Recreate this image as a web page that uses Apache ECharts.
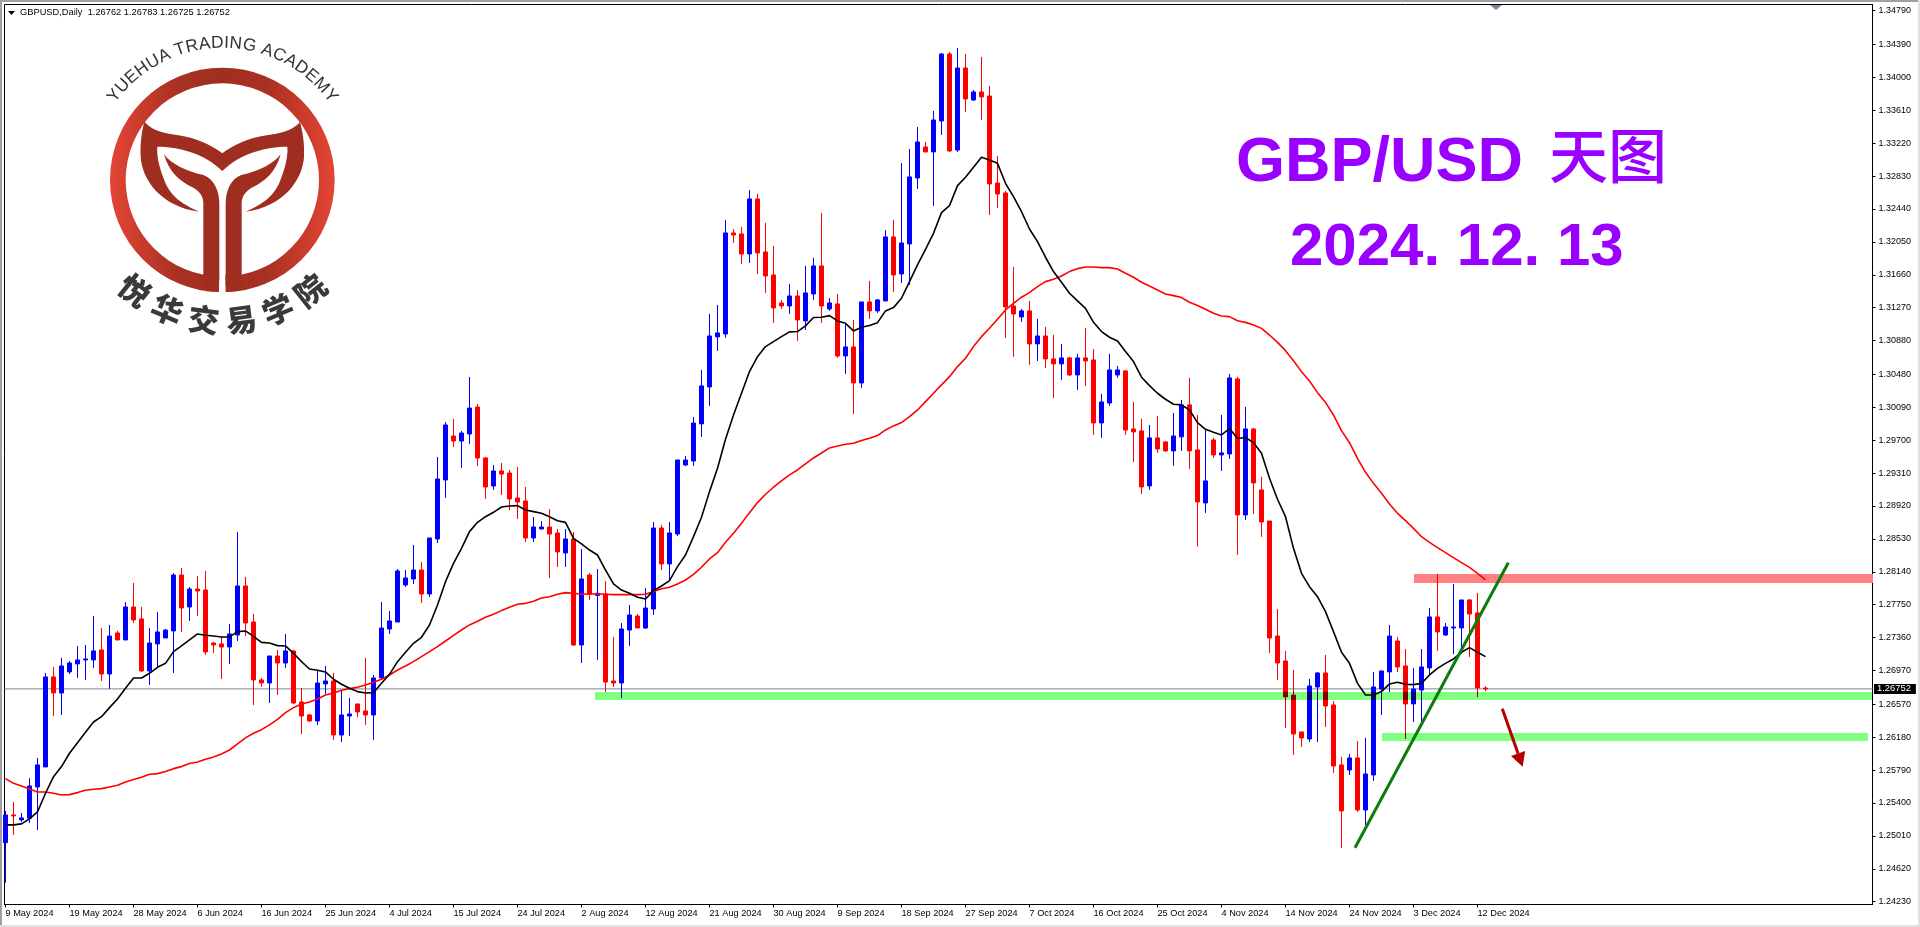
<!DOCTYPE html>
<html><head><meta charset="utf-8">
<style>html,body{margin:0;padding:0;background:#fff;overflow:hidden}#c{width:1920px;height:927px}</style>
<script src="https://cdn.jsdelivr.net/npm/echarts@6/dist/echarts.min.js"></script>
</head><body><div id="c"></div>
<script>
const opens=[1.2493,1.25258,1.25199,1.25219,1.2559,1.25827,1.26894,1.26704,1.26953,1.27048,1.27095,1.27095,1.27214,1.26929,1.27415,1.27332,1.27723,1.27581,1.26965,1.27285,1.27356,1.27439,1.28102,1.27723,1.27936,1.27924,1.27296,1.27285,1.27249,1.27391,1.27972,1.27545,1.26858,1.26822,1.27142,1.27059,1.27202,1.26597,1.26443,1.26372,1.26811,1.26846,1.26206,1.26431,1.26574,1.26491,1.26443,1.26882,1.27462,1.27545,1.27984,1.28055,1.28161,1.27877,1.28529,1.29228,1.29749,1.2969,1.29773,1.30093,1.29489,1.29157,1.29335,1.29311,1.29015,1.28979,1.28541,1.28647,1.28671,1.286,1.28363,1.28529,1.27273,1.28102,1.27861,1.27877,1.26846,1.26822,1.2745,1.27616,1.27474,1.27699,1.28659,1.28233,1.28588,1.29406,1.29453,1.29893,1.30331,1.30924,1.30959,1.32156,1.32144,1.31907,1.32559,1.31931,1.31658,1.31326,1.31291,1.31409,1.31113,1.31433,1.31765,1.31255,1.31315,1.30698,1.30805,1.30378,1.31338,1.31232,1.3135,1.32109,1.3167,1.32026,1.32808,1.33175,1.33116,1.33483,1.34277,1.33139,1.34111,1.33732,1.33827,1.33779,1.32748,1.3263,1.31291,1.31161,1.31232,1.30841,1.30935,1.30663,1.30604,1.30675,1.30473,1.30675,1.30651,1.29904,1.30141,1.30473,1.30521,1.29833,1.2981,1.29158,1.29727,1.29679,1.29573,1.29739,1.30118,1.29584,1.28956,1.29703,1.29525,1.29537,1.30426,1.28814,1.29833,1.2911,1.28742,1.27379,1.27083,1.2668,1.26242,1.26159,1.26775,1.26941,1.26562,1.25851,1.25791,1.25934,1.25317,1.25732,1.26751,1.26953,1.2732,1.27024,1.26574,1.26739,1.27,1.27605,1.27391,1.27474,1.27474,1.27806,1.27652,1.26762];
const closes=[1.25258,1.25246,1.25223,1.25602,1.25851,1.26894,1.26704,1.27024,1.27059,1.27095,1.27107,1.27202,1.26929,1.27379,1.27332,1.27723,1.27569,1.26965,1.27296,1.27427,1.2745,1.28102,1.27711,1.27936,1.27913,1.2719,1.27273,1.27249,1.27403,1.27972,1.27533,1.26858,1.26822,1.27142,1.27059,1.27202,1.26585,1.26431,1.26372,1.26822,1.26846,1.26206,1.26443,1.26455,1.26479,1.26443,1.26882,1.27474,1.27557,1.2815,1.28067,1.28161,1.27877,1.28541,1.2924,1.2988,1.2969,1.29785,1.30081,1.29489,1.29145,1.29335,1.29299,1.29003,1.28967,1.28541,1.28671,1.28671,1.28588,1.28375,1.28529,1.27273,1.28055,1.27877,1.27885,1.26834,1.26822,1.27462,1.27628,1.27474,1.27711,1.28659,1.28233,1.286,1.29465,1.29465,1.29903,1.30343,1.30935,1.30971,1.32156,1.32132,1.31907,1.32559,1.31919,1.31646,1.31267,1.31291,1.31409,1.31125,1.31445,1.31765,1.31291,1.31326,1.30698,1.30805,1.30378,1.31338,1.31232,1.31362,1.32109,1.31658,1.32037,1.3282,1.33234,1.33116,1.33495,1.34277,1.33128,1.34111,1.33744,1.33827,1.33768,1.32737,1.32618,1.31279,1.31196,1.31232,1.30841,1.30935,1.30663,1.30604,1.30675,1.30473,1.30675,1.30639,1.29904,1.30153,1.30532,1.30532,1.29821,1.29798,1.29146,1.29727,1.29596,1.29573,1.2975,1.30118,1.29573,1.28968,1.29217,1.29525,1.29549,1.30438,1.28814,1.29833,1.29193,1.28731,1.27356,1.27059,1.26657,1.26218,1.26171,1.26787,1.26941,1.2655,1.25839,1.25306,1.25934,1.25317,1.25744,1.26775,1.26965,1.27379,1.27012,1.26574,1.26751,1.27012,1.27605,1.27427,1.27486,1.27486,1.27806,1.2764,1.26763,1.26752];
const lows=[1.24456,1.25021,1.25175,1.25163,1.2508,1.25827,1.26431,1.26443,1.26929,1.26882,1.26858,1.27,1.26846,1.26751,1.27332,1.27332,1.27533,1.26953,1.26799,1.27012,1.27356,1.26941,1.27427,1.27557,1.27616,1.27154,1.27178,1.2687,1.27048,1.2732,1.27379,1.26562,1.26775,1.26585,1.2668,1.27,1.26574,1.26218,1.2636,1.26325,1.26692,1.26147,1.26123,1.26194,1.2642,1.26325,1.26147,1.26858,1.27403,1.27545,1.2796,1.27996,1.2777,1.27842,1.28481,1.29015,1.29619,1.2937,1.29655,1.29394,1.29003,1.2911,1.2905,1.28872,1.28766,1.28493,1.28493,1.28647,1.28067,1.28197,1.28197,1.27261,1.27059,1.27806,1.27095,1.26716,1.26775,1.26645,1.27261,1.27474,1.27462,1.27628,1.28161,1.28043,1.28564,1.29394,1.29394,1.29739,1.30106,1.30758,1.30912,1.32037,1.31789,1.318,1.3167,1.31445,1.31089,1.31255,1.31196,1.30876,1.31006,1.31362,1.31089,1.31232,1.30675,1.30485,1.30011,1.30319,1.31137,1.31208,1.3135,1.31457,1.31563,1.3154,1.32677,1.33116,1.32476,1.33317,1.33116,1.33116,1.3359,1.3372,1.33495,1.32369,1.32452,1.30912,1.30687,1.31101,1.30592,1.30639,1.30556,1.30201,1.30414,1.30461,1.30295,1.30343,1.29762,1.29727,1.30106,1.30438,1.29762,1.29442,1.29063,1.2911,1.29549,1.29561,1.29395,1.29573,1.29359,1.28438,1.28838,1.2949,1.29336,1.29478,1.28339,1.28755,1.28826,1.28554,1.27178,1.26858,1.26289,1.25969,1.26064,1.26123,1.26123,1.26301,1.25756,1.24867,1.25732,1.25294,1.2514,1.25661,1.26443,1.26716,1.26953,1.26159,1.2636,1.2636,1.26917,1.27202,1.27379,1.27166,1.27166,1.27131,1.26657,1.26725];
const highs=[1.25306,1.25412,1.25282,1.25693,1.25934,1.26941,1.27012,1.27119,1.27083,1.27261,1.27273,1.27616,1.27474,1.2751,1.27439,1.27782,1.28007,1.27723,1.27474,1.27664,1.27462,1.28126,1.28185,1.2796,1.2809,1.2815,1.27308,1.27368,1.27522,1.28612,1.28079,1.2764,1.26882,1.27142,1.27214,1.27403,1.27214,1.26763,1.26455,1.26976,1.27024,1.26941,1.26728,1.26645,1.26574,1.27119,1.26917,1.27782,1.27676,1.28173,1.28161,1.28458,1.28256,1.28541,1.29501,1.29915,1.29951,1.29809,1.30449,1.30129,1.29501,1.29406,1.29429,1.29346,1.29382,1.29145,1.2879,1.28742,1.28884,1.28647,1.28647,1.28612,1.2841,1.28126,1.28173,1.28031,1.27368,1.27533,1.27747,1.2764,1.27948,1.2873,1.28695,1.2873,1.29465,1.29512,1.29975,1.30532,1.31196,1.31303,1.3231,1.32203,1.32227,1.32665,1.32618,1.32274,1.32002,1.31362,1.31552,1.3148,1.31765,1.3186,1.32393,1.31386,1.31433,1.31085,1.31125,1.31338,1.31587,1.31374,1.32191,1.3231,1.32985,1.33151,1.33412,1.33234,1.33602,1.34289,1.34301,1.34348,1.34277,1.3385,1.34242,1.33898,1.33068,1.32654,1.31753,1.31255,1.3135,1.31137,1.31042,1.30947,1.30841,1.30687,1.30722,1.3103,1.30781,1.30248,1.30722,1.3058,1.30532,1.30153,1.29952,1.29881,1.29987,1.29691,1.30023,1.30177,1.30438,1.29999,1.29821,1.29727,1.29999,1.30485,1.3045,1.30094,1.29845,1.29265,1.28742,1.27699,1.27202,1.26976,1.26242,1.2687,1.26953,1.27154,1.26609,1.25946,1.25981,1.26135,1.26171,1.26953,1.26965,1.2751,1.27368,1.27225,1.27,1.27225,1.27711,1.28114,1.27533,1.27996,1.27806,1.27818,1.27889,1.26783];
const maFast=[1.2514,1.2514,1.25152,1.25211,1.25294,1.25515,1.25712,1.25831,1.25989,1.26115,1.26238,1.2636,1.26423,1.2653,1.26633,1.26759,1.26882,1.26882,1.26937,1.27008,1.27055,1.27194,1.27261,1.27332,1.27403,1.27387,1.27379,1.27368,1.27368,1.27431,1.27439,1.27375,1.27304,1.27296,1.27265,1.27261,1.27174,1.27075,1.26988,1.26973,1.26953,1.26866,1.26807,1.26759,1.2672,1.26704,1.26708,1.26818,1.26925,1.27075,1.27186,1.27292,1.27364,1.2751,1.27747,1.28023,1.2824,1.28418,1.28616,1.28726,1.28793,1.28845,1.28908,1.2892,1.28924,1.28872,1.28853,1.28833,1.28793,1.28746,1.28726,1.28537,1.2847,1.28398,1.28339,1.28161,1.27996,1.27924,1.27885,1.27838,1.27818,1.27917,1.27972,1.28035,1.28201,1.28339,1.28557,1.28786,1.2909,1.29367,1.2971,1.29999,1.30256,1.30513,1.3069,1.30809,1.30868,1.30927,1.30983,1.30987,1.31054,1.31153,1.31157,1.31176,1.31113,1.31085,1.30995,1.31038,1.31058,1.31093,1.31232,1.31271,1.31382,1.31579,1.31777,1.31962,1.32152,1.32397,1.3248,1.32717,1.32816,1.32934,1.33053,1.33021,1.32981,1.32744,1.32586,1.32409,1.32203,1.32053,1.31868,1.31698,1.31571,1.31441,1.3135,1.31263,1.31097,1.30987,1.3092,1.30876,1.3075,1.30631,1.30446,1.30347,1.30256,1.30185,1.30126,1.30118,1.30058,1.29908,1.29829,1.29794,1.29762,1.29837,1.29719,1.29731,1.29671,1.29545,1.29249,1.29,1.28793,1.28418,1.28122,1.27964,1.27845,1.27668,1.27431,1.27186,1.27055,1.26818,1.2668,1.2668,1.2672,1.26811,1.2683,1.26807,1.26803,1.26818,1.26917,1.26996,1.27055,1.27107,1.27186,1.27241,1.27186,1.27134];
const maSlow=[1.25689,1.25633,1.25602,1.25566,1.25531,1.25531,1.25515,1.25495,1.25499,1.25523,1.25551,1.25562,1.2557,1.2559,1.2561,1.25649,1.25677,1.25705,1.2574,1.25748,1.25772,1.25807,1.25831,1.25867,1.25886,1.25918,1.25946,1.25981,1.26028,1.261,1.26171,1.26226,1.26269,1.26325,1.26392,1.26471,1.2653,1.26574,1.26597,1.26633,1.2668,1.26704,1.26736,1.26755,1.26771,1.26799,1.2683,1.26866,1.26917,1.26976,1.27024,1.27075,1.27134,1.27194,1.27253,1.2732,1.27387,1.2745,1.2751,1.27553,1.27601,1.27636,1.2768,1.27719,1.27755,1.27766,1.2779,1.2783,1.27845,1.27873,1.27893,1.27885,1.27873,1.27877,1.27877,1.27873,1.27869,1.27869,1.27869,1.27869,1.27873,1.27905,1.2794,1.27956,1.27996,1.28043,1.2811,1.28194,1.28292,1.28367,1.2849,1.28596,1.28715,1.28841,1.2896,1.29059,1.29142,1.29217,1.29288,1.29347,1.29418,1.29489,1.29548,1.29608,1.29631,1.29651,1.29663,1.29695,1.29722,1.29754,1.29821,1.29869,1.29908,1.29979,1.30058,1.30157,1.30256,1.30355,1.30453,1.30572,1.30671,1.30809,1.30927,1.31026,1.31133,1.31243,1.31322,1.31394,1.31449,1.3152,1.31579,1.31607,1.31646,1.31698,1.31733,1.31753,1.31753,1.31745,1.31745,1.31729,1.31678,1.31631,1.31571,1.31528,1.3148,1.31433,1.31413,1.3139,1.31334,1.31295,1.31251,1.31204,1.31172,1.31164,1.31116,1.31096,1.31065,1.31025,1.30946,1.30859,1.30761,1.30642,1.30512,1.30401,1.30263,1.30148,1.29998,1.29813,1.2967,1.29485,1.29319,1.29188,1.2907,1.28944,1.28833,1.28746,1.28655,1.28556,1.28489,1.28426,1.28367,1.28308,1.28248,1.28193,1.28122,1.28043];
const dateLabels=['9 May 2024','19 May 2024','28 May 2024','6 Jun 2024','16 Jun 2024','25 Jun 2024','4 Jul 2024','15 Jul 2024','24 Jul 2024','2 Aug 2024','12 Aug 2024','21 Aug 2024','30 Aug 2024','9 Sep 2024','18 Sep 2024','27 Sep 2024','7 Oct 2024','16 Oct 2024','25 Oct 2024','4 Nov 2024','14 Nov 2024','24 Nov 2024','3 Dec 2024','12 Dec 2024'];
const priceTicks=[1.3479,1.3439,1.34,1.3361,1.3322,1.3283,1.3244,1.3205,1.3166,1.3127,1.3088,1.3048,1.3009,1.297,1.2931,1.2892,1.2853,1.2814,1.2775,1.2736,1.2697,1.2657,1.2618,1.2579,1.254,1.2501,1.2462,1.2423];
const lastPrice=1.26752;
const zones=[[73.69,233.375,1.26715,1.26621],[172.06,232.8,1.26229,1.26135],[176.06,233.375,1.28114,1.28007]];
const zoneColors=['#80ff80','#80ff80','#ff8080'];
const trendLine=[[168.69,1.2487],[187.85,1.28248]];
const arrowLine=[[187.1,1.26517,189.65,1.2583]];

const XMIN=-0.125,XMAX=233.375,YMIN=1.241968,YMAX=1.348634;
const bars=opens.map((o,i)=>[i,o,closes[i],lows[i],highs[i]]);
const ui="'Liberation Sans',Arial,sans-serif";
const chart=echarts.init(document.getElementById('c'),null,{renderer:'canvas'});

// ----- logo, drawn in a 3x coordinate space
const S=1/3;
const gradient=new echarts.graphic.LinearGradient(0,0,1,0,[{offset:0,color:'#e34535'},{offset:0.3,color:'#a93123'},{offset:0.5,color:'#a02e20'},{offset:0.7,color:'#a93123'},{offset:1,color:'#e34535'}]);
const logoPaths=[
 'M330 540A337 337 0 1 1 1004 540A337 337 0 1 1 330 540ZM377 540A290 290 0 1 0 957 540A290 290 0 1 0 377 540Z',
 'M433 366C462 395 495 400 535 406C590 414 635 436 667 460C699 436 744 414 800 406C840 400 872 395 900 367C908 395 914 430 912 470C908 540 850 620 737 635C790 610 825 590 845 530C858 495 864 465 862 440C800 440 720 460 667 513C614 460 534 440 472 440C470 465 476 495 489 530C509 590 544 610 598 635C484 620 426 540 422 470C420 430 425 395 433 366Z',
 'M492 462C510 490 560 515 610 525C640 535 658 570 658 610L658 838C658 855 640 872 622 874C616 874 610 822 610 822L610 610C610 590 600 575 580 563C540 545 505 515 492 462Z',
 'M842 462C824 490 774 515 724 525C694 535 677 570 677 610L677 838C677 855 694 872 712 874C718 874 725 822 725 822L725 610C725 590 735 575 755 563C795 545 829 515 842 462Z'
];
logoPaths.forEach((d,i)=>echarts.graphic.registerShape('logo'+i,echarts.graphic.extendPath(d)));
const logo=[];
logo.push({type:'logo0',scaleX:S,scaleY:S,style:{fill:gradient}});
logo.push({type:'rect',shape:{x:219,y:195,width:6.6,height:100},style:{fill:'#fff'}});
logo.push({type:'rect',shape:{x:203.4,y:274,width:15.7,height:12},style:{fill:'#a02e20'}});
logo.push({type:'rect',shape:{x:225.6,y:274,width:16,height:12},style:{fill:'#a02e20'}});
[1,2,3].forEach(i=>logo.push({type:'logo'+i,scaleX:S,scaleY:S,style:{fill:'#a02e20'}}));
const CX=222.5,CY=180;
const arcText='YUEHUA TRADING ACADEMY';
const em={Y:.667,U:.722,E:.667,H:.722,A:.667,' ':.278,T:.611,R:.722,D:.722,I:.278,N:.722,G:.778,C:.722,M:.833};
const F=17.3,R=128.5;
const total=[...arcText].reduce((s,c)=>s+em[c]*F,0);
let pos=-total/2;
[...arcText].forEach(c=>{
  const w=em[c]*F,a=(pos+w/2)/R;pos+=w;
  if(c===' ')return;
  logo.push({type:'text',x:CX+R*Math.sin(a),y:CY-R*Math.cos(a),rotation:-a,
    style:{text:c,font:`${F}px ${ui}`,fill:'#333',align:'center',verticalAlign:'bottom'}});
});
const cjk='悦华交易学院';
[...cjk].forEach((c,i)=>{
  const a=(2.5-i)*15.4*Math.PI/180,r=141;
  logo.push({type:'text',x:CX-r*Math.sin(a),y:CY+r*Math.cos(a),rotation:-a,
    style:{text:c,font:`900 31px 'Noto Sans CJK SC'`,fill:'#3a3a3a',align:'center',verticalAlign:'middle'}});
});

// where a candle crosses a translucent green band it shows darker, as in the reference
function overlapPieces(api){
  const i=api.value(0),o=api.value(1),c=api.value(2),l=api.value(3),h=api.value(4);
  const col=c>=o?'#000080':'#800000',kids=[];
  zones.forEach((z,k)=>{
    if(k===2||i<z[0]||i>z[1])return;
    const part=(hi,lo,w)=>{
      const t=Math.min(hi,z[2]),b=Math.max(lo,z[3]);
      if(t<=b)return;
      const p=api.coord([i,t]),q=api.coord([i,b]);
      kids.push({type:'rect',shape:{x:Math.floor(p[0])+.5-w/2,y:Math.round(p[1]),width:w,height:Math.max(1,Math.round(q[1])-Math.round(p[1]))},style:{fill:col}});
    };
    part(h,l,1);part(Math.max(o,c),Math.min(o,c),5);
  });
  return kids.length?{type:'group',children:kids}:null;
}

chart.setOption({
 animation:false,backgroundColor:'#fff',
 grid:{left:4.5,top:4.5,width:1868,height:900,show:true,backgroundColor:'#fff',borderColor:'#000',borderWidth:1},
 xAxis:{type:'value',min:XMIN,max:XMAX,splitLine:{show:false},
  axisLine:{show:true,onZero:false,lineStyle:{color:'#000',width:1}},
  axisTick:{show:true,length:3,lineStyle:{color:'#000'},customValues:dateLabels.map((d,i)=>i*8)},
  axisLabel:{show:true,customValues:dateLabels.map((d,i)=>i*8),formatter:v=>dateLabels[Math.round(v/8)]||'',align:'left',margin:4,color:'#000',fontFamily:ui,fontSize:9.2,hideOverlap:false}},
 yAxis:{type:'value',position:'right',min:YMIN,max:YMAX,splitLine:{show:false},
  axisLine:{show:true,onZero:false,lineStyle:{color:'#000',width:1}},
  axisTick:{show:true,length:3,lineStyle:{color:'#000'},customValues:priceTicks},
  axisLabel:{show:true,customValues:priceTicks,formatter:v=>v.toFixed(5),margin:6,color:'#000',fontFamily:ui,fontSize:9,hideOverlap:false}},
 series:[
  {type:'line',name:'price',z:1,data:[[XMIN,lastPrice],[XMAX,lastPrice]],showSymbol:false,silent:true,clip:false,
   lineStyle:{color:'#778899',width:1},
   endLabel:{show:true,distance:1.5,formatter:()=>lastPrice.toFixed(5),backgroundColor:'#000',color:'#fff',fontFamily:ui,fontSize:9.4,padding:[0,5,0,3],lineHeight:10}},
  {type:'custom',name:'zones',z:2,silent:true,clip:true,data:zones,encode:{x:[0,1],y:[2,3]},
   renderItem:(p,api)=>{
     const a=api.coord([api.value(0),api.value(2)]),b=api.coord([api.value(1),api.value(3)]);
     return {type:'rect',shape:{x:Math.round(a[0]),y:Math.round(a[1]),width:Math.round(b[0]-a[0]),height:Math.round(b[1]-a[1])},
       style:{fill:zoneColors[p.dataIndex]}};
   }},
  {type:'candlestick',name:'GBPUSD',z:3,barWidth:4,data:bars,clip:true,encode:{x:0,y:[1,2,3,4]},silent:true,
   itemStyle:{color:'#0000ff',color0:'#ff0000',borderColor:'#0000ff',borderColor0:'#ff0000',borderWidth:1}},
  {type:'custom',name:'overlap',z:4,silent:true,clip:true,data:bars,encode:{x:0,y:[3,4]},renderItem:(p,api)=>overlapPieces(api)},
  {type:'line',name:'MA slow',z:5,data:maSlow.map((v,i)=>[i,v]),showSymbol:false,silent:true,lineStyle:{color:'#ff0000',width:1.6}},
  {type:'line',name:'MA fast',z:5,data:maFast.map((v,i)=>[i,v]),showSymbol:false,silent:true,lineStyle:{color:'#000',width:1.6}},
  {type:'line',name:'trend',z:6,data:trendLine,showSymbol:false,silent:true,lineStyle:{color:'#0a7d0a',width:3}},
  {type:'custom',name:'arrow',z:7,silent:true,data:arrowLine,encode:{x:[0,2],y:[1,3]},
   renderItem:(p,api)=>{
     const a=api.coord([api.value(0),api.value(1)]),t=api.coord([api.value(2),api.value(3)]);
     const dx=t[0]-a[0],dy=t[1]-a[1],L=Math.hypot(dx,dy),ux=dx/L,uy=dy/L,hl=14,hw=7.5;
     const bx=t[0]-ux*hl,by=t[1]-uy*hl;
     return {type:'group',children:[
       {type:'line',shape:{x1:a[0],y1:a[1],x2:bx,y2:by},style:{stroke:'#b30000',lineWidth:3}},
       {type:'polygon',shape:{points:[[t[0],t[1]],[bx-uy*hw,by+ux*hw],[bx+uy*hw,by-ux*hw]]},style:{fill:'#b30000'}}
     ]};
   }}
 ],
 graphic:[
  {type:'rect',silent:true,shape:{x:0,y:0,width:1920,height:2},style:{fill:'#a0a0a0'}},
  {type:'rect',silent:true,shape:{x:0,y:0,width:2,height:926},style:{fill:'#a0a0a0'}},
  {type:'rect',silent:true,shape:{x:0,y:925,width:1920,height:2},style:{fill:'#e0e0e0'}},
  {type:'rect',silent:true,shape:{x:1918,y:0,width:2,height:927},style:{fill:'#e0e0e0'}},
  {type:'polygon',silent:true,shape:{points:[[1490,5],[1502,5],[1496,10]]},style:{fill:'#778899'}},
  {type:'polygon',silent:true,shape:{points:[[8,11],[15,11],[11.5,15]]},style:{fill:'#000'}},
  {type:'text',silent:true,x:20,y:7.5,style:{text:'GBPUSD,Daily  1.26762 1.26783 1.26725 1.26752',font:`9.3px ${ui}`,fill:'#000'}},
  {type:'text',silent:true,x:1236,y:132,style:{text:'GBP/USD',font:`bold 63px ${ui}`,fill:'#9900ff'}},
  {type:'text',silent:true,x:1549,y:126,style:{text:'天图',font:`500 59px 'Noto Sans CJK SC'`,fill:'#9900ff'}},
  {type:'text',silent:true,x:1290,y:218,style:{text:'2024. 12. 13',font:`bold 60px ${ui}`,fill:'#9900ff'}},
  {type:'group',silent:true,children:logo}
 ]
});
</script></body></html>
